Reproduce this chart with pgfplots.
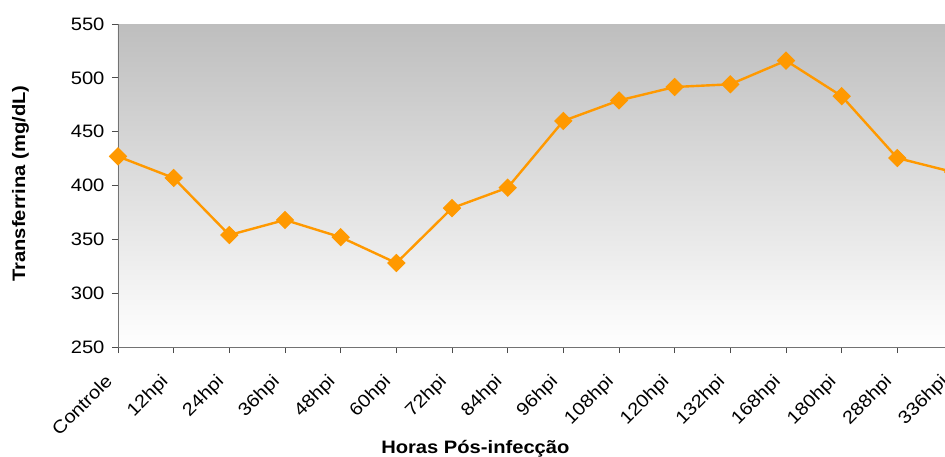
\documentclass[border=0pt]{standalone}
\usepackage{pgfplots}
\pgfplotsset{compat=1.18}
\usepackage{fontspec}
\setmainfont{Liberation Sans}[FakeStretch=1.12]
\definecolor{orng}{RGB}{255,153,0}
\definecolor{bgtop}{RGB}{190,190,190}
\begin{document}
\begin{tikzpicture}
\useasboundingbox (-118pt,-109pt) rectangle (827pt,347pt);
\clip (-118pt,-109pt) rectangle (827pt,347pt);
\begin{axis}[
  scale only axis, width=835pt, height=323pt,
  xmin=0, xmax=15, ymin=250, ymax=550,
  ytick={250,300,...,550},
  xtick={0,...,15},
  xticklabels={Controle,12hpi,24hpi,36hpi,48hpi,60hpi,72hpi,84hpi,96hpi,108hpi,120hpi,132hpi,168hpi,180hpi,288hpi,336hpi},
  axis lines=left,
  axis line style={-, black!55, line width=0.8pt},
  tick style={black!70, line width=0.8pt},
  tick align=outside,
  major tick length=6pt,
  /pgf/number format/assume math mode=true,
  y tick label style={font=\fontsize{18}{18}\selectfont, xshift=-4pt},
  x tick label style={xshift=-14pt, yshift=-17pt, rotate=45, anchor=north east, font=\fontsize{18}{18}\selectfont, inner sep=2pt},
  xlabel={\textbf{Horas Pós-infecção}},
  ylabel={\textbf{Transferrina (mg/dL)}},
  xlabel style={at={(axis description cs:0.428,-0.315)}, anchor=center, font=\fontsize{18}{18}\selectfont},
  ylabel style={at={(axis description cs:-0.1168,0.506)}, anchor=center, font=\fontsize{18}{18}\selectfont},
  axis background/.style={top color=bgtop, bottom color=white},
]
\addplot[orng, line width=2.4pt, mark=square*, mark size=6pt, mark options={rotate=45, fill=orng, draw=orng, line width=1pt}]
coordinates {
(0,427) (1,407) (2,354) (3,368) (4,352) (5,328) (6,379) (7,398) (8,460) (9,479) (10,491.5) (11,494) (12,516) (13,483) (14,425.5) (15,412.5)
};
\end{axis}
\end{tikzpicture}
\end{document}
